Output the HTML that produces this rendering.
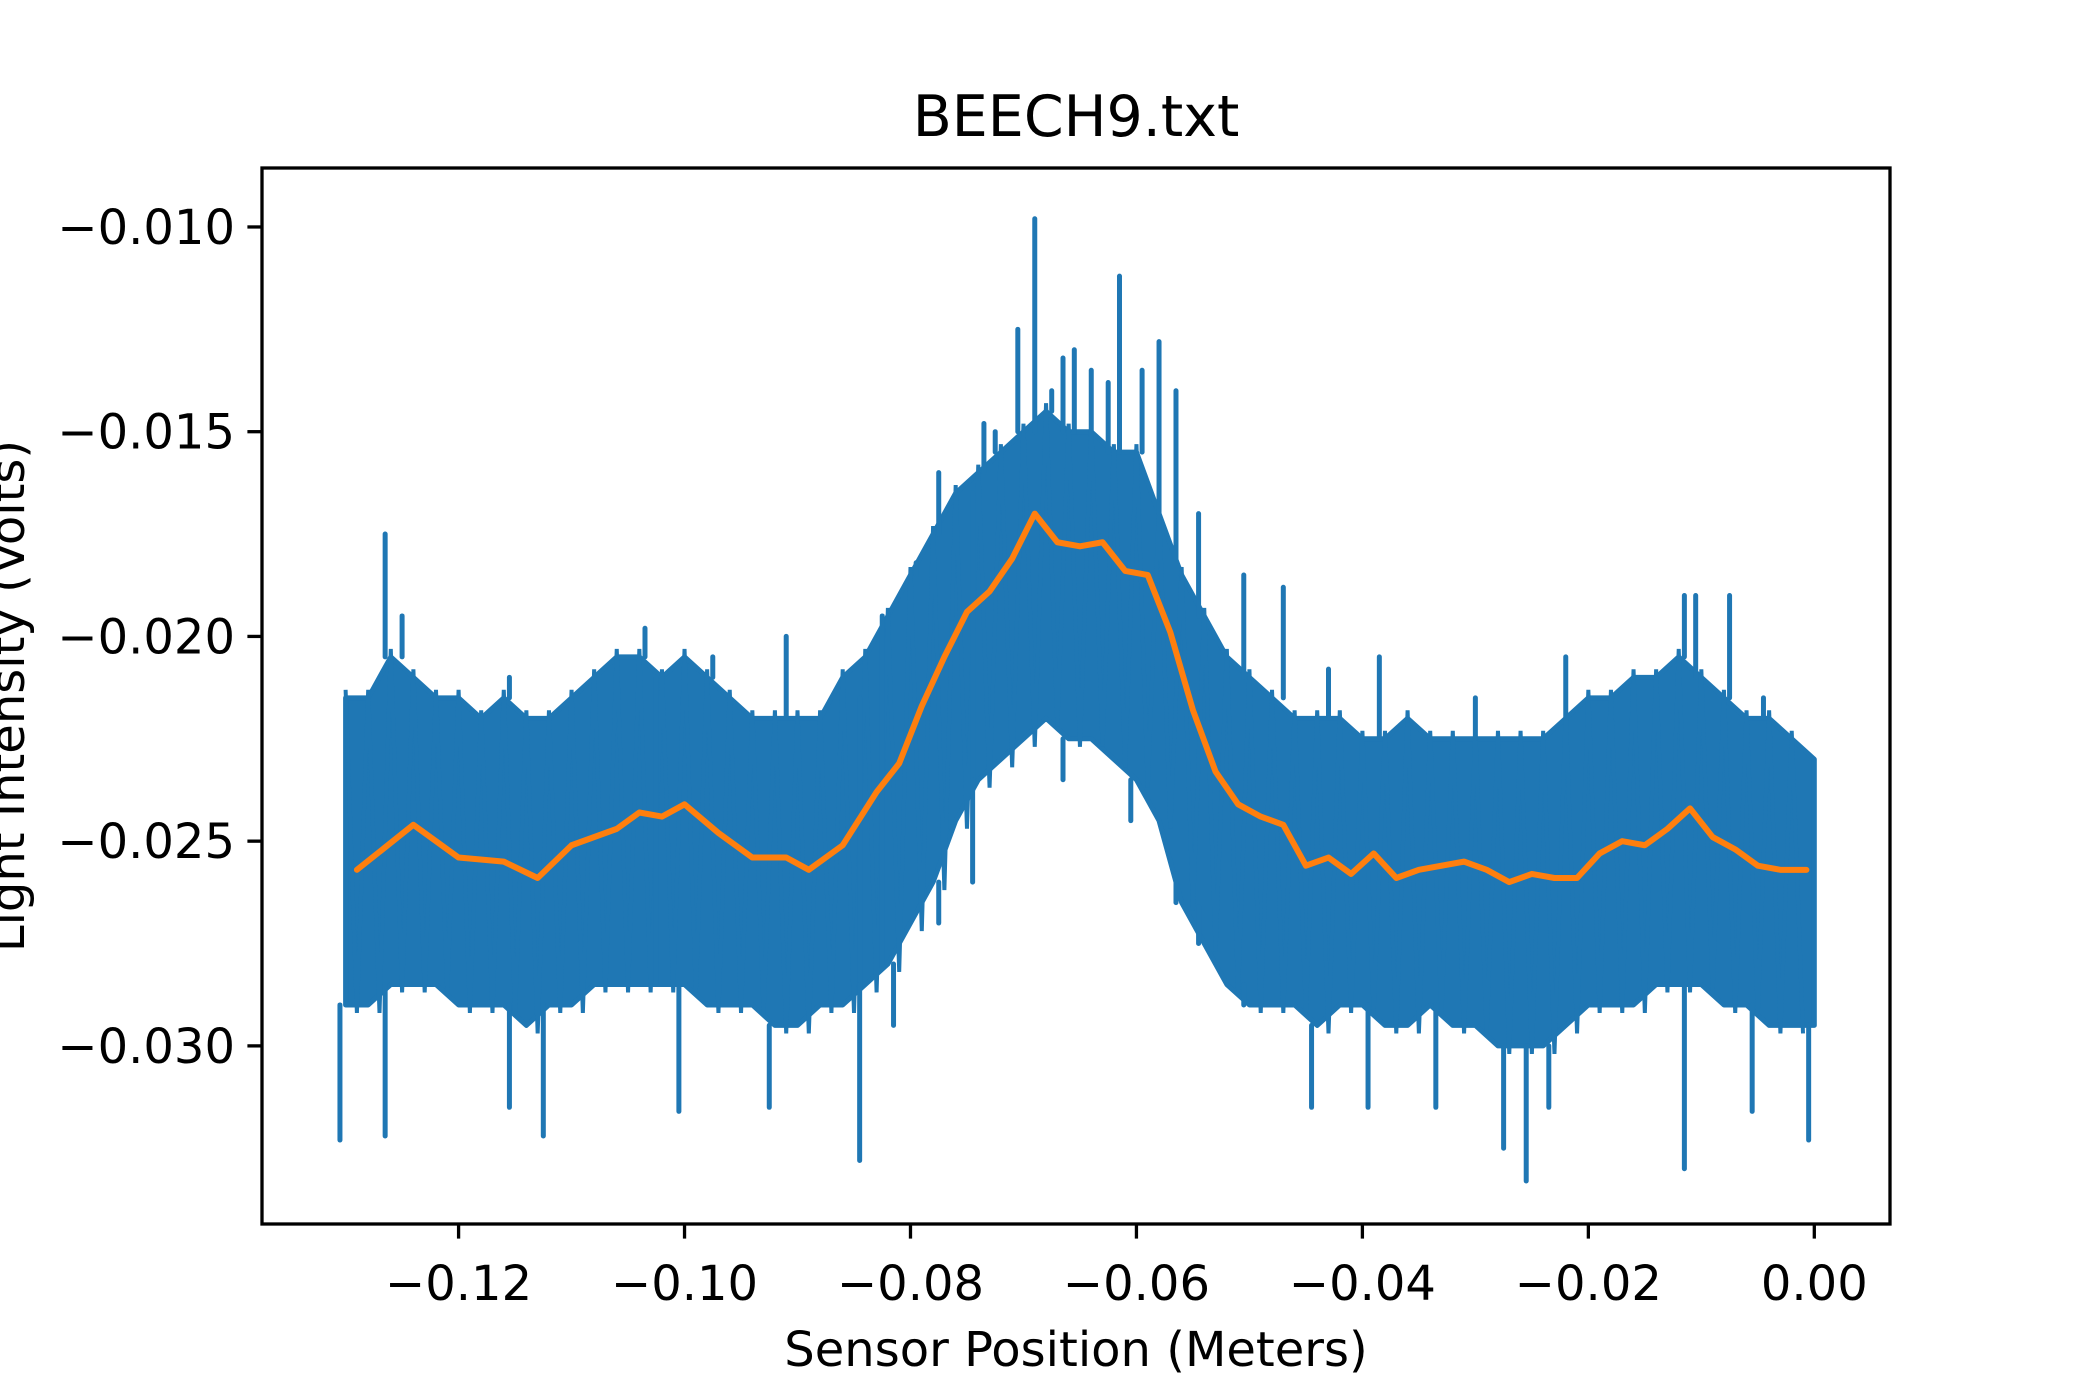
<!DOCTYPE html>
<html><head><meta charset="utf-8"><style>
html,body{margin:0;padding:0;background:#fff;}
svg{display:block;font-family:"DejaVu Sans","Liberation Sans",sans-serif;}
</style></head><body>
<svg id="chart" width="2100" height="1400" viewBox="0 0 2100 1400">
<rect width="2100" height="1400" fill="#fff"/>
<defs><clipPath id="clip"><rect x="262" y="168" width="1628" height="1056"/></clipPath></defs>
<text x="1076" y="136" font-size="57" text-anchor="middle">BEECH9.txt</text>
<text x="1076" y="1366" font-size="48" text-anchor="middle">Sensor Position (Meters)</text>
<text transform="translate(24,696) rotate(-90)" font-size="48" text-anchor="middle">Light Intensity (Volts)</text>
<g id="plot" clip-path="url(#clip)"></g>
<g id="axes"></g>
</svg>
<script>
const xTicks=[-0.12,-0.10,-0.08,-0.06,-0.04,-0.02,0.00];
const xTickLabels=["−0.12","−0.10","−0.08","−0.06","−0.04","−0.02","0.00"];
const yTicks=[-0.010,-0.015,-0.020,-0.025,-0.030];
const yTickLabels=["−0.010","−0.015","−0.020","−0.025","−0.030"];
const bandX=[-0.130,-0.128,-0.126,-0.124,-0.122,-0.120,-0.118,-0.116,-0.114,-0.112,-0.110,-0.108,-0.106,-0.104,-0.102,-0.100,-0.098,-0.096,-0.094,-0.092,-0.090,-0.088,-0.086,-0.084,-0.082,-0.080,-0.078,-0.076,-0.074,-0.072,-0.070,-0.068,-0.066,-0.064,-0.062,-0.060,-0.058,-0.056,-0.054,-0.052,-0.050,-0.048,-0.046,-0.044,-0.042,-0.040,-0.038,-0.036,-0.034,-0.032,-0.030,-0.028,-0.026,-0.024,-0.022,-0.020,-0.018,-0.016,-0.014,-0.012,-0.010,-0.008,-0.006,-0.004,-0.002,0.000];
const bandHi=[-0.0215,-0.0215,-0.0205,-0.021,-0.0215,-0.0215,-0.022,-0.0215,-0.022,-0.022,-0.0215,-0.021,-0.0205,-0.0205,-0.021,-0.0205,-0.021,-0.0215,-0.022,-0.022,-0.022,-0.022,-0.021,-0.0205,-0.0195,-0.0185,-0.0175,-0.0165,-0.016,-0.0155,-0.015,-0.0145,-0.015,-0.015,-0.0155,-0.0155,-0.017,-0.0185,-0.0195,-0.0205,-0.021,-0.0215,-0.022,-0.022,-0.022,-0.0225,-0.0225,-0.022,-0.0225,-0.0225,-0.0225,-0.0225,-0.0225,-0.0225,-0.022,-0.0215,-0.0215,-0.021,-0.021,-0.0205,-0.021,-0.0215,-0.022,-0.022,-0.0225,-0.023];
const bandLo=[-0.0290,-0.0290,-0.0285,-0.0285,-0.0285,-0.0290,-0.0290,-0.0290,-0.0295,-0.0290,-0.0290,-0.0285,-0.0285,-0.0285,-0.0285,-0.0285,-0.0290,-0.0290,-0.0290,-0.0295,-0.0295,-0.0290,-0.0290,-0.0285,-0.0280,-0.0270,-0.0260,-0.0245,-0.0235,-0.0230,-0.0225,-0.0220,-0.0225,-0.0225,-0.0230,-0.0235,-0.0245,-0.0265,-0.0275,-0.0285,-0.0290,-0.0290,-0.0290,-0.0295,-0.0290,-0.0290,-0.0295,-0.0295,-0.0290,-0.0295,-0.0295,-0.0300,-0.0300,-0.0300,-0.0295,-0.0290,-0.0290,-0.0290,-0.0285,-0.0285,-0.0285,-0.0290,-0.0290,-0.0295,-0.0295,-0.0295];
const spikeX=[-0.1265,-0.125,-0.1155,-0.1035,-0.1025,-0.0975,-0.091,-0.0845,-0.0825,-0.0795,-0.0745,-0.0725,-0.0705,-0.069,-0.0665,-0.064,-0.0615,-0.0595,-0.058,-0.0545,-0.0505,-0.047,-0.043,-0.0385,-0.030,-0.022,-0.0115,-0.0105,-0.0075,-0.0045,-0.0735,-0.0675,-0.0655,-0.0625,-0.0565,-0.0775,
-0.1305,-0.1265,-0.1155,-0.1125,-0.1005,-0.0925,-0.0845,-0.0815,-0.0775,-0.0745,-0.0665,-0.0605,-0.0565,-0.0545,-0.0505,-0.0445,-0.0395,-0.0335,-0.0275,-0.0255,-0.0235,-0.0115,-0.0055,-0.0005];
const spikeVal=[-0.0175,-0.0195,-0.0210,-0.0198,-0.0210,-0.0205,-0.0200,-0.0215,-0.0195,-0.0182,-0.0165,-0.0150,-0.0125,-0.0098,-0.0132,-0.0135,-0.0112,-0.0135,-0.0128,-0.0170,-0.0185,-0.0188,-0.0208,-0.0205,-0.0215,-0.0205,-0.0190,-0.0190,-0.0190,-0.0215,-0.0148,-0.0140,-0.0130,-0.0138,-0.0140,-0.0160,
-0.0323,-0.0322,-0.0315,-0.0322,-0.0316,-0.0315,-0.0328,-0.0295,-0.0270,-0.0260,-0.0235,-0.0245,-0.0258,-0.0266,-0.0285,-0.0315,-0.0315,-0.0315,-0.0325,-0.0333,-0.0315,-0.0330,-0.0316,-0.0323];
const smoothX=[-0.129,-0.124,-0.120,-0.116,-0.113,-0.110,-0.106,-0.104,-0.102,-0.100,-0.097,-0.094,-0.091,-0.089,-0.086,-0.083,-0.081,-0.079,-0.077,-0.075,-0.073,-0.071,-0.069,-0.067,-0.065,-0.063,-0.061,-0.059,-0.057,-0.055,-0.053,-0.051,-0.049,-0.047,-0.045,-0.043,-0.041,-0.039,-0.037,-0.035,-0.031,-0.029,-0.027,-0.025,-0.023,-0.021,-0.019,-0.017,-0.015,-0.013,-0.011,-0.009,-0.007,-0.005,-0.003,-0.0007];
const smoothY=[-0.0257,-0.0246,-0.0254,-0.0255,-0.0259,-0.0251,-0.0247,-0.0243,-0.0244,-0.0241,-0.0248,-0.0254,-0.0254,-0.0257,-0.0251,-0.0238,-0.0231,-0.0217,-0.0205,-0.0194,-0.0189,-0.0181,-0.0170,-0.0177,-0.0178,-0.0177,-0.0184,-0.0185,-0.0199,-0.0218,-0.0233,-0.0241,-0.0244,-0.0246,-0.0256,-0.0254,-0.0258,-0.0253,-0.0259,-0.0257,-0.0255,-0.0257,-0.0260,-0.0258,-0.0259,-0.0259,-0.0253,-0.0250,-0.0251,-0.0247,-0.0242,-0.0249,-0.0252,-0.0256,-0.0257,-0.0257];

const L=262,R=1890,T=168,B=1224;
const xMin=-0.1374,xMax=0.0067,yMin=-0.03435,yMax=-0.00856;
const sx=v=>L+(v-xMin)/(xMax-xMin)*(R-L);
const sy=v=>B-(v-yMin)/(yMax-yMin)*(B-T);
const NS='http://www.w3.org/2000/svg';
const plot=document.getElementById('plot'),axes=document.getElementById('axes');
function mk(tag,attrs,parent){const e=document.createElementNS(NS,tag);for(const k in attrs)e.setAttribute(k,attrs[k]);parent.appendChild(e);return e;}
const blue='#1f77b4';
const n=Math.min(bandX.length,bandHi.length,bandLo.length);
let d='';
for(let i=0;i<n;i++)d+=(i?'L':'M')+sx(bandX[i])+','+sy(bandHi[i]);
for(let i=n-1;i>=0;i--)d+='L'+sx(bandX[i])+','+sy(bandLo[i]);
const band=mk('path',{d:d+'Z',fill:blue,stroke:blue,'stroke-width':5,'stroke-linejoin':'round'},plot);


let z='';
for(let i=0;i<n-1;i++){
  const xa=sx(bandX[i]),xb=sx(bandX[i+1]);
  z+=(i?'L':'M')+xa+','+(sy(bandHi[i])-8)+'L'+((xa+xb)/2)+','+(sy(bandLo[i])+8);
}
const zig=mk('path',{d:z,fill:'none',stroke:blue,'stroke-width':4},plot);


function bandAt(x,hi){let j=0;let best=1e9;for(let i=0;i<n;i++){const dd=Math.abs(bandX[i]-x);if(dd<best){best=dd;j=i;}}return hi?bandHi[j]:bandLo[j];}
for(let i=0;i<Math.min(spikeX.length,spikeVal.length);i++){
  const up=spikeVal[i]>bandAt(spikeX[i],true);
  const base=up?bandAt(spikeX[i],true):bandAt(spikeX[i],false);
  const s=mk('line',{x1:sx(spikeX[i]),x2:sx(spikeX[i]),y1:sy(base),y2:sy(spikeVal[i]),stroke:blue,'stroke-width':5,'stroke-linecap':'round'},plot);
  
  
}
let o='';
for(let i=0;i<Math.min(smoothX.length,smoothY.length);i++)o+=(i?'L':'M')+sx(smoothX[i])+','+sy(smoothY[i]);
const sm=mk('path',{d:o,fill:'none',stroke:'#ff7f0e','stroke-width':6,'stroke-linejoin':'round','stroke-linecap':'round'},plot);



const frame=mk('rect',{x:L,y:T,width:R-L,height:B-T,fill:'none',stroke:'#000','stroke-width':3.3},axes);


xTicks.forEach((v,i)=>{
  const t=mk('line',{x1:sx(v),x2:sx(v),y1:B,y2:B+14.6,stroke:'#000','stroke-width':3.3},axes);
  
  
  const tx=mk('text',{x:sx(v),y:B+76,'font-size':48,'text-anchor':'middle'},axes);
  tx.textContent=xTickLabels[i];
  
  
});
yTicks.forEach((v,i)=>{
  const t=mk('line',{x1:L-14.6,x2:L,y1:sy(v),y2:sy(v),stroke:'#000','stroke-width':3.3},axes);
  
  
  const tx=mk('text',{x:L-27,y:sy(v)+17,'font-size':48,'text-anchor':'end'},axes);
  tx.textContent=yTickLabels[i];
  
  
});
</script>
</body></html>
